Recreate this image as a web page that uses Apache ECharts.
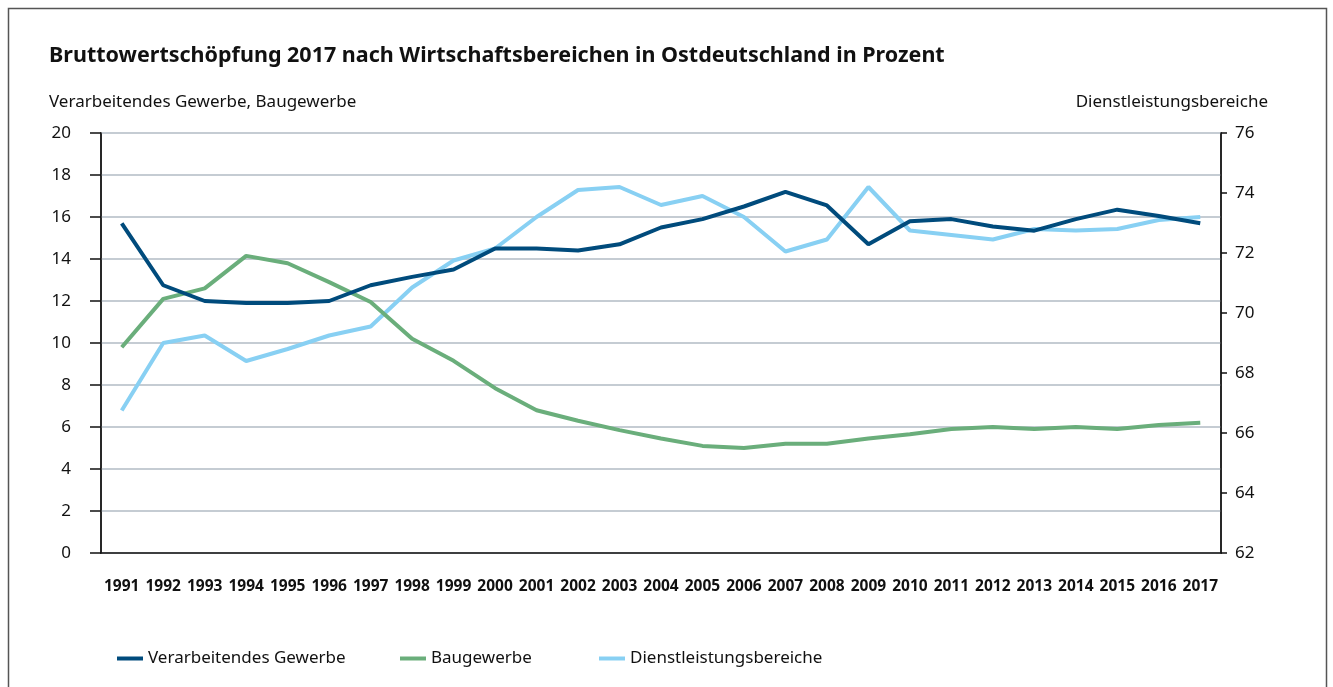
<!DOCTYPE html>
<html>
<head>
<meta charset="utf-8">
<script src="https://cdn.jsdelivr.net/npm/echarts@6/dist/echarts.min.js"></script>
<style>
    html, body {margin: 0; padding: 0; background: #fff;}
    #chart {width: 1333px; height: 687px;}
</style>
</head>
<body>
<div id="chart"></div>
<script>
    // Jahre und Anteile in Prozent
    var years = ['1991', '1992', '1993', '1994', '1995', '1996', '1997', '1998', '1999', '2000',
        '2001', '2002', '2003', '2004', '2005', '2006', '2007', '2008', '2009', '2010',
        '2011', '2012', '2013', '2014', '2015', '2016', '2017'];
    var verarbeitendes = [15.7, 12.75, 12.0, 11.9, 11.9, 12.0, 12.75, 13.15, 13.5, 14.5,
        14.5, 14.4, 14.7, 15.5, 15.9, 16.5, 17.2, 16.55, 14.7, 15.8,
        15.9, 15.55, 15.35, 15.9, 16.35, 16.05, 15.7];
    var baugewerbe = [9.8, 12.1, 12.6, 14.15, 13.8, 12.9, 11.95, 10.2, 9.15, 7.85,
        6.8, 6.3, 5.85, 5.45, 5.1, 5.0, 5.2, 5.2, 5.45, 5.65,
        5.9, 6.0, 5.9, 6.0, 5.9, 6.1, 6.2];
    var dienstleistung = [66.75, 69.0, 69.25, 68.4, 68.8, 69.25, 69.55, 70.85, 71.75, 72.15,
        73.2, 74.1, 74.2, 73.6, 73.9, 73.2, 72.05, 72.45, 74.2, 72.75,
        72.6, 72.45, 72.8, 72.75, 72.8, 73.1, 73.2];
    var leftTicks = [0, 20, 2];
    var rightTicks = [62, 76, 2];

    var font = 'Noto Sans';
    var c1 = '#004b7c', c2 = '#6aae7b', c3 = '#88d0f3';

    var myChart = echarts.init(document.getElementById('chart'));
    var option = {
        animation: false,
        textStyle: {fontFamily: font},
        title: {
            text: 'Bruttowertschöpfung 2017 nach Wirtschaftsbereichen in Ostdeutschland in Prozent',
            left: 44, top: 40,
            textStyle: {fontFamily: font, fontSize: 21.5, fontWeight: 'bold', color: '#111'}
        },
        graphic: [
            {type: 'rect', shape: {x: 8.5, y: 8.5, width: 1318, height: 700},
                style: {fill: 'none', stroke: '#555', lineWidth: 1.5}, silent: true},
            {type: 'text', left: 49, top: 94,
                style: {text: 'Verarbeitendes Gewerbe, Baugewerbe', font: '17px "Noto Sans"', fill: '#111'}},
            {type: 'text', right: 65, top: 94,
                style: {text: 'Dienstleistungsbereiche', font: '17px "Noto Sans"', fill: '#111'}}
        ],
        grid: {
            left: 101, right: 112, top: 133, bottom: 134,
            show: true, borderColor: '#444', borderWidth: 1.5, backgroundColor: 'transparent'
        },
        legend: [
            {data: ['Verarbeitendes Gewerbe'], left: 112, top: 645},
            {data: ['Baugewerbe'], left: 395, top: 645},
            {data: ['Dienstleistungsbereiche'], left: 594, top: 645}
        ].map(function (l) {
            return Object.assign(l, {
                icon: 'rect', itemWidth: 26, itemHeight: 4, itemGap: 10,
                textStyle: {fontFamily: font, fontSize: 17, color: '#111'}
            });
        }),
        xAxis: {
            type: 'category',
            data: years,
            boundaryGap: true,
            axisLine: {lineStyle: {color: '#111', width: 1.5}},
            axisTick: {show: false},
            axisLabel: {interval: 0, margin: 26, fontFamily: font, fontSize: 15.5, fontWeight: 'bold', color: '#111'}
        },
        yAxis: [
            {
                type: 'value', min: leftTicks[0], max: leftTicks[1], interval: leftTicks[2],
                axisLine: {show: true, lineStyle: {color: '#111', width: 1.5}},
                axisTick: {show: true, length: 11, lineStyle: {color: '#111', width: 1.5}},
                axisLabel: {margin: 30, fontFamily: font, fontSize: 17, color: '#111'},
                splitLine: {lineStyle: {color: '#c5ccd3', width: 2}}
            },
            {
                type: 'value', min: rightTicks[0], max: rightTicks[1], interval: rightTicks[2],
                position: 'right',
                axisLine: {show: true, lineStyle: {color: '#111', width: 1.5}},
                axisTick: {show: true, length: 6, lineStyle: {color: '#111', width: 1.5}},
                axisLabel: {margin: 14, fontFamily: font, fontSize: 17, color: '#111'},
                splitLine: {show: false}
            }
        ],
        series: [
            {name: 'Verarbeitendes Gewerbe', type: 'line', yAxisIndex: 0, data: verarbeitendes,
                symbol: 'none', color: c1, lineStyle: {width: 4, color: c1}, z: 4},
            {name: 'Baugewerbe', type: 'line', yAxisIndex: 0, data: baugewerbe,
                symbol: 'none', color: c2, lineStyle: {width: 4, color: c2}, z: 3},
            {name: 'Dienstleistungsbereiche', type: 'line', yAxisIndex: 1, data: dienstleistung,
                symbol: 'none', color: c3, lineStyle: {width: 4, color: c3}, z: 2}
        ]
    };
    myChart.setOption(option);
</script>
</body>
</html>
